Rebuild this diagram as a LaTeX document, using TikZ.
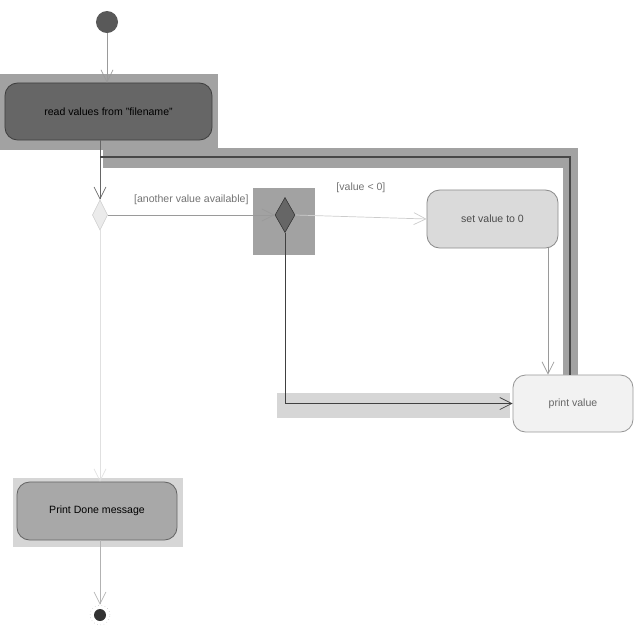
\documentclass[tikz,border=0pt]{standalone}
\usepackage{fontspec}
\setmainfont{Liberation Sans}
\usepackage{xcolor}
\usetikzlibrary{shapes.geometric,arrows.meta,positioning}

\definecolor{hlgray}{HTML}{A2A2A2}
\definecolor{hllight}{HTML}{D6D6D6}
\definecolor{darkfill}{HTML}{666666}
\definecolor{midfill}{HTML}{A8A8A8}
\definecolor{setfill}{HTML}{DADADA}
\definecolor{lightfill}{HTML}{F2F2F2}
\definecolor{flowgray}{HTML}{9A9A9A}
\definecolor{loopdark}{HTML}{474747}

\begin{document}
\begin{tikzpicture}[x=0.025cm,y=-0.025cm,
    action/.style={draw=black!75,rounded corners=9pt,line width=0.6pt,inner sep=0pt,font=\fontsize{7.5}{9}\selectfont},
    flow/.style={draw=flowgray,line width=0.5pt,-{Straight Barb[length=3mm,width=3mm]}},
    guard/.style={font=\fontsize{7.5}{9}\selectfont,text=black!55}]
    \useasboundingbox (0,0) rectangle (640,640);

    % selection highlights
    \fill[hlgray] (0,74) rectangle (218,150);
    \fill[hlgray] (103,148) rectangle (578,168);
    \fill[hlgray] (563,148) rectangle (578,375);
    \fill[hlgray] (253,188) rectangle (315,255);
    \fill[hllight] (277,393) rectangle (510,418);
    \fill[hllight] (13,478) rectangle (183,547);

    % nodes
    \node[circle,fill=black!65,minimum size=0.55cm,inner sep=0pt] (start) at (107,22) {};
    \node[action,fill=darkfill,minimum width=5.175cm,minimum height=1.425cm] (read) at (108.5,111.5) {read values from "filename"};
    \node[diamond,draw=black!20,fill=black!8,minimum width=0.38cm,minimum height=0.75cm,inner sep=0pt] (merge) at (100,215) {};
    \node[diamond,draw=black!80,fill=darkfill,minimum width=0.5cm,minimum height=0.875cm,inner sep=0pt] (check) at (285,215) {};
    \node[action,fill=setfill,draw=black!45,minimum width=3.275cm,minimum height=1.45cm,text=black!70] (setzero) at (492.5,219) {set value to 0};
    \node[action,fill=lightfill,draw=black!40,minimum width=3cm,minimum height=1.425cm,text=black!60] (print) at (573,403.5) {print value};
    \node[action,fill=midfill,draw=black!60,minimum width=4cm,minimum height=1.45cm] (done) at (97,511) {Print Done message};
    \node[circle,draw=black!25,dotted,minimum size=0.5cm,inner sep=0pt] (stop) at (100,615) {};
    \node[circle,fill=black!80,minimum size=0.3cm,inner sep=0pt] at (stop) {};
    \coordinate (join) at (100,157);

    % connectors
    \draw[flow] (start) -- (read.north -| start);
    \draw[flow,draw=black!60] (read.south -| merge) -- (merge.north);
    \draw[loopdark,line width=1.8pt] (print.north -| 570,0) |- (join);
    \draw[flow] (merge.east) -- node[guard,above=4pt,pos=0.5] {[another value available]} (check.west);
    \draw[flow,draw=black!20] (check.east) -- node[guard,above=14pt,pos=0.5] {[value < 0]} (setzero.west);
    \draw[flow] (setzero.south -| 548,0) -- (print.north -| 548,0);
    \draw[flow,draw=black!75] (check.south) |- (print.west);
    \draw[flow,draw=black!12] (merge.south) -- (done.north -| merge);
    \draw[flow,draw=black!30] (done.south -| stop) -- (stop.north);
\end{tikzpicture}
\end{document}
